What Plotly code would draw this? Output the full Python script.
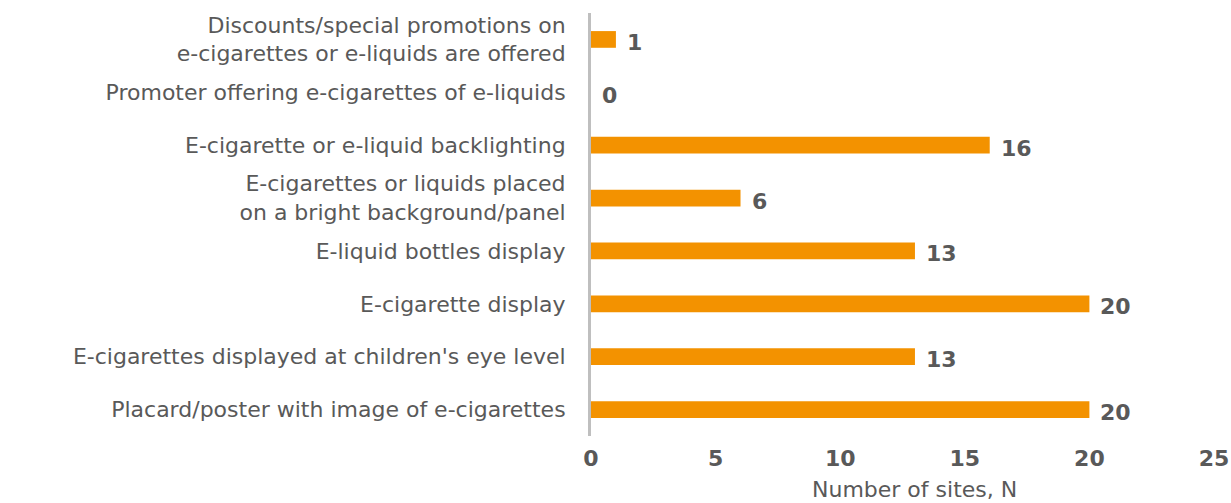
import plotly.graph_objects as go

# Categories listed bottom to top
categories = [
    "Placard/poster with image of e-cigarettes",
    "E-cigarettes displayed at children's eye level",
    "E-cigarette display",
    "E-liquid bottles display",
    "E-cigarettes or liquids placed<br>on a bright background/panel",
    "E-cigarette or e-liquid backlighting",
    "Promoter offering e-cigarettes of e-liquids",
    "Discounts/special promotions on<br>e-cigarettes or e-liquids are offered",
]
sites = [20, 13, 20, 13, 6, 16, 0, 1]
x_ticks = [0, 5, 10, 15, 20, 25]
x_title = "Number of sites, N"

BAR = "#F39200"
TEXT = "#595959"
FONT = "DejaVu Sans"

fig = go.Figure(
    go.Bar(
        x=sites,
        y=categories,
        orientation="h",
        marker=dict(color=BAR, line=dict(width=0)),
        hoverinfo="x+y",
    )
)

# value labels next to each bar end
for cat, val in zip(categories, sites):
    fig.add_annotation(
        x=val, y=cat, xref="x", yref="y",
        text=f"<b>{val}</b>", showarrow=False,
        xanchor="left", yanchor="middle", xshift=9, yshift=-3,
        font=dict(family=FONT, size=22, color=TEXT),
    )

# x-axis title, set slightly right of the axis centre
fig.add_annotation(
    x=0.52, y=0, xref="paper", yref="paper",
    text=x_title, showarrow=False,
    xanchor="center", yanchor="middle", yshift=-53,
    font=dict(family=FONT, size=22, color=TEXT),
)

fig.update_layout(
    width=1231, height=503,
    margin=dict(l=591, r=17, t=13, b=67, autoexpand=False),
    paper_bgcolor="white", plot_bgcolor="white",
    bargap=0.684,
    showlegend=False,
    font=dict(family=FONT, size=22, color=TEXT),
)
fig.update_xaxes(
    range=[0, 25], tickvals=x_ticks,
    ticktext=[f"<b>{t}</b>" for t in x_ticks],
    showgrid=False, zeroline=False, showline=False,
    ticks="", automargin=False, ticklabelstandoff=7,
    tickfont=dict(family=FONT, size=22, color=TEXT),
)
fig.update_yaxes(
    showgrid=False, zeroline=False,
    showline=True, linecolor="#BFBFBF", linewidth=3,
    ticks="", ticklabelstandoff=18,
    tickfont=dict(family=FONT, size=22, color=TEXT),
    automargin=False,
)

fig.write_html("out.html")
